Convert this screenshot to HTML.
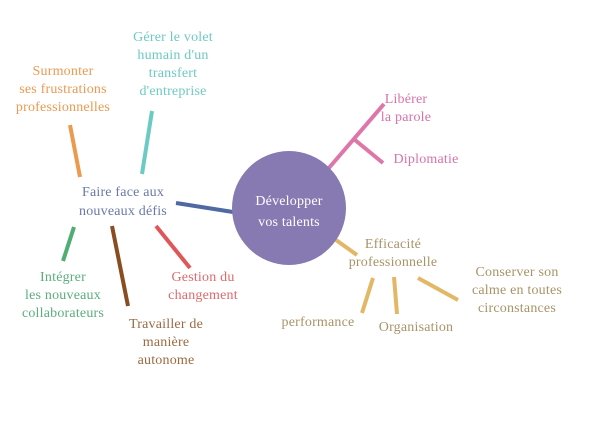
<!DOCTYPE html>
<html><head><meta charset="utf-8"><style>
html,body{margin:0;padding:0;background:#fff}
svg text{font-family:"Liberation Serif",serif;font-size:14px;text-anchor:middle;letter-spacing:0.2px}
</style></head><body>
<svg width="600" height="424" viewBox="0 0 600 424" xmlns="http://www.w3.org/2000/svg">
<g stroke-width="4" stroke-linecap="butt" fill="none">
<line x1="70" y1="125" x2="80" y2="177" stroke="#eb9a50"/>
<line x1="152" y1="111" x2="142" y2="174" stroke="#6ccac4"/>
<line x1="176" y1="203" x2="233" y2="212" stroke="#4f69a3"/>
<line x1="74" y1="227" x2="63" y2="261" stroke="#4fae74"/>
<line x1="112" y1="226" x2="128" y2="306" stroke="#8a4d22"/>
<line x1="156" y1="226" x2="190" y2="268" stroke="#e0575a"/>
<line x1="328" y1="169" x2="384" y2="104" stroke="#de76aa"/>
<line x1="355" y1="140" x2="383" y2="163" stroke="#de76aa"/>
<line x1="336" y1="240" x2="357" y2="255" stroke="#e2b766"/>
<line x1="373" y1="278" x2="362" y2="313" stroke="#e2b766"/>
<line x1="394" y1="277" x2="397" y2="314" stroke="#e2b766"/>
<line x1="418" y1="278" x2="458" y2="300" stroke="#e2b766"/>
</g>
<circle cx="289" cy="208" r="57" fill="#877ab2"/>
<g fill="#fff" style="font-size:16px"><text x="289" y="205">Développer</text><text x="289" y="226">vos talents</text></g>
<g fill="#eb9a50"><text x="63" y="75">Surmonter</text><text x="63" y="93">ses frustrations</text><text x="63" y="111">professionnelles</text></g>
<g fill="#6ccac4"><text x="173" y="41">Gérer le volet</text><text x="173" y="59">humain d'un</text><text x="173" y="77">transfert</text><text x="173" y="95">d'entreprise</text></g>
<g fill="#6a78a8"><text x="123" y="196">Faire face aux</text><text x="123" y="215">nouveaux défis</text></g>
<g fill="#5aae7e"><text x="63" y="281">Intégrer</text><text x="63" y="299">les nouveaux</text><text x="63" y="317">collaborateurs</text></g>
<g fill="#9a6a42"><text x="166" y="328">Travailler de</text><text x="166" y="346">manière</text><text x="166" y="364">autonome</text></g>
<g fill="#de6a6c"><text x="203" y="281">Gestion du</text><text x="203" y="299">changement</text></g>
<g fill="#d873a8"><text x="406" y="103">Libérer</text><text x="406" y="121">la parole</text><text x="426" y="163">Diplomatie</text></g>
<g fill="#a89468"><text x="393" y="248">Efficacité</text><text x="393" y="266">professionnelle</text><text x="517" y="276">Conserver son</text><text x="517" y="294">calme en toutes</text><text x="517" y="312">circonstances</text><text x="318" y="326">performance</text><text x="416" y="331">Organisation</text></g>
</svg>
</body></html>
